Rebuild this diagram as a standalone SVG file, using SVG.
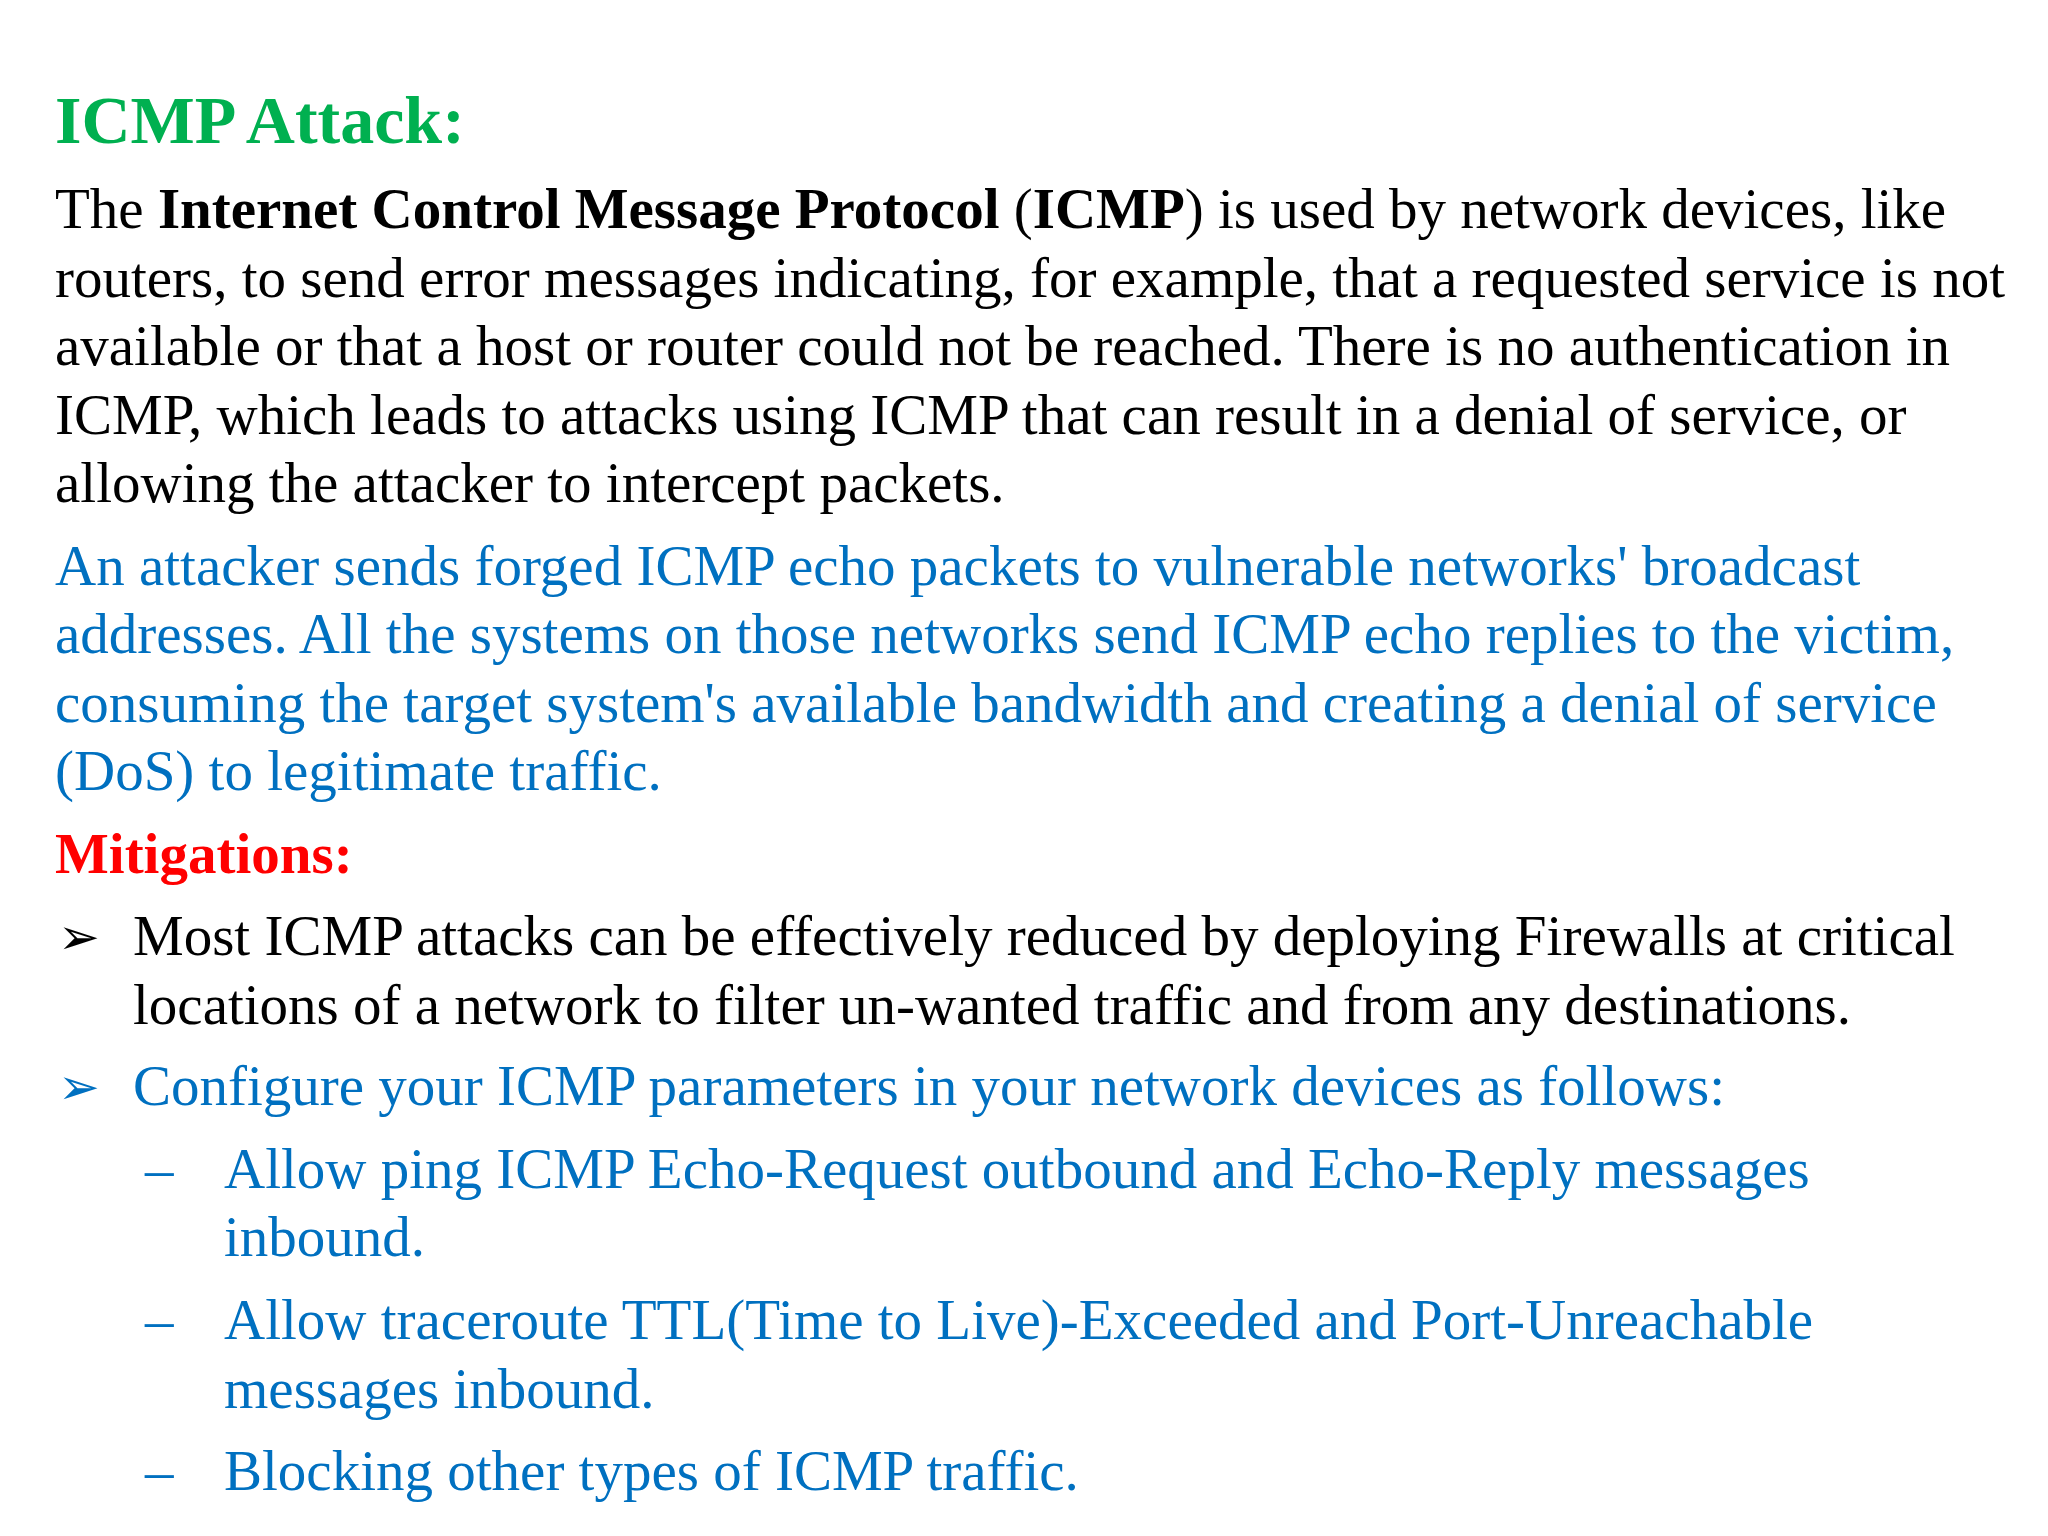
<svg xmlns="http://www.w3.org/2000/svg" width="2048" height="1536" viewBox="0 0 2048 1536">
<style>
text{font-family:"Liberation Serif","Times New Roman",serif;font-size:57px;fill:#000}
.b{fill:#0070C0}
.g{fill:#00B050;font-weight:bold;font-size:68px}
.r{fill:#FF0000;font-weight:bold}
.k{font-family:"DejaVu Sans",sans-serif;font-size:50px;font-weight:bold}
</style>
<rect width="2048" height="1536" fill="#fff"/>
<g id="title"><text class="g" x="55" y="143">ICMP Attack:</text></g>
<g id="para1">
<text x="55" y="228">The <tspan font-weight="bold">Internet Control Message Protocol</tspan> (<tspan font-weight="bold">ICMP</tspan>) is used by network devices, like</text>
<text x="55" y="297">routers, to send error messages indicating, for example, that a requested service is not</text>
<text x="55" y="365">available or that a host or router could not be reached. There is no authentication in</text>
<text x="55" y="434">ICMP, which leads to attacks using ICMP that can result in a denial of service, or</text>
<text x="55" y="502">allowing the attacker to intercept packets.</text>
</g>
<g id="para2">
<text class="b" x="55" y="585">An attacker sends forged ICMP echo packets to vulnerable networks' broadcast</text>
<text class="b" x="55" y="653">addresses. All the systems on those networks send ICMP echo replies to the victim,</text>
<text class="b" x="55" y="722">consuming the target system's available bandwidth and creating a denial of service</text>
<text class="b" x="55" y="790">(DoS) to legitimate traffic.</text>
</g>
<g id="mitigations">
<text class="r" x="55" y="873">Mitigations:</text>
<text class="k" x="58" y="954">➢</text>
<text x="133" y="955">Most ICMP attacks can be effectively reduced by deploying Firewalls at critical</text>
<text x="133" y="1024">locations of a network to filter un-wanted traffic and from any destinations.</text>
<text class="k b" x="58" y="1104">➢</text>
<text class="b" x="133" y="1105">Configure your ICMP parameters in your network devices as follows:</text>
<text class="b" x="145" y="1188">–</text>
<text class="b" x="224" y="1188">Allow ping ICMP Echo-Request outbound and Echo-Reply messages</text>
<text class="b" x="224" y="1256">inbound.</text>
<text class="b" x="145" y="1339">–</text>
<text class="b" x="224" y="1339">Allow traceroute TTL(Time to Live)-Exceeded and Port-Unreachable</text>
<text class="b" x="224" y="1408">messages inbound.</text>
<text class="b" x="145" y="1490">–</text>
<text class="b" x="224" y="1490">Blocking other types of ICMP traffic.</text>
</g>
</svg>
